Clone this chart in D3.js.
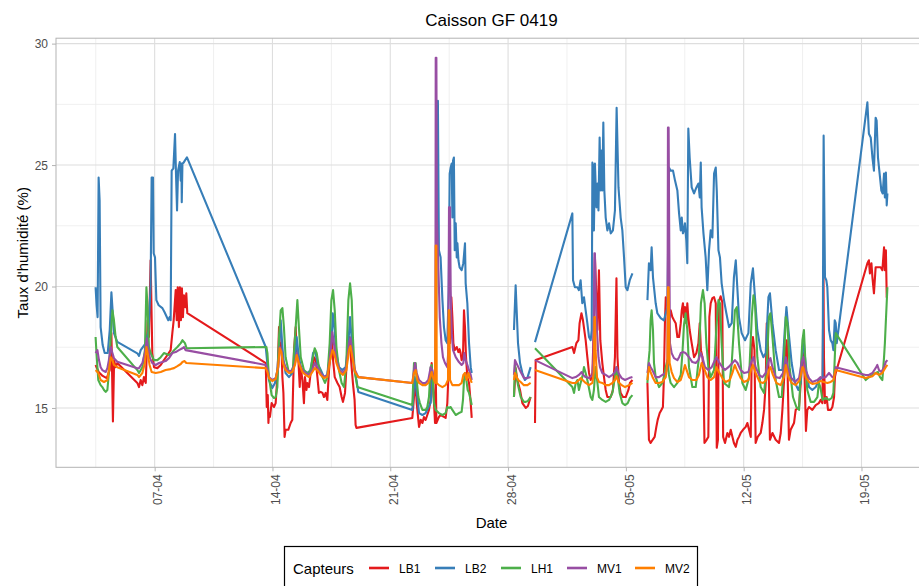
<!DOCTYPE html>
<html><head><meta charset="utf-8">
<script src="https://cdn.jsdelivr.net/npm/d3@7"></script>
<style>body{margin:0;background:#fff}svg{display:block;font-family:"Liberation Sans",Arial,Helvetica,sans-serif}</style>
</head><body><svg id="c" width="919" height="586"></svg>
<script>
// Time is given as day number counted from 31 March 2019 (day 7 = 07-04, day 35 = 05-05); null = gap in the record
const seriesNames = ["LB1","LB2","LH1","MV1","MV2"];
const seriesColors = ["#E41A1C","#377EB8","#4DAF4A","#984EA3","#FF7F00"];
const yTicks = [15,20,25,30];
const yMinor = [17.5,22.5,27.5];
const tickFormat = "%d-%m";

const LB1 = [[3.49,16.77],[3.67,16.48],[3.91,16.32],[4.15,16.23],[4.33,16.56],[4.43,18.08],[4.52,14.44],[4.59,16.97],[4.68,16.68],[4.78,16.85],[5.97,16.03],[6.07,15.86],[6.17,16.15],[6.27,15.94],[6.36,16.27],[6.47,16.03],[6.53,17.26],[6.58,18.61],[6.66,17.92],[6.76,21.08],[6.86,17.26],[6.96,16.68],[7.16,16.64],[7.36,16.77],[7.55,16.97],[7.76,17.18],[7.95,17.38],[8.05,18.08],[8.13,18.61],[8.25,19.85],[8.31,18.61],[8.37,19.97],[8.44,18.33],[8.50,19.97],[8.56,18.61],[8.62,19.93],[8.68,18.74],[8.74,19.64],[8.82,19.15],[8.88,19.72],[8.94,18.90],[13.60,16.85],[13.66,15.04],[13.72,15.53],[13.76,14.38],[13.79,14.79],[13.85,14.63],[13.95,15.20],[14.09,15.04],[14.19,15.20],[14.25,15.86],[14.31,16.56],[14.39,18.33],[14.45,17.38],[14.53,17.67],[14.59,16.27],[14.65,15.62],[14.72,13.81],[14.78,14.10],[14.94,14.10],[15.08,14.38],[15.18,14.51],[15.28,17.38],[15.38,18.33],[15.44,17.26],[15.54,16.97],[15.62,15.86],[15.68,16.68],[15.78,16.15],[15.87,15.20],[15.93,16.27],[16.02,15.74],[16.07,16.03],[16.17,15.86],[16.27,16.44],[16.37,16.56],[16.47,17.09],[16.57,16.97],[16.67,16.27],[16.76,15.62],[16.86,15.66],[16.97,15.62],[17.06,15.45],[17.16,15.62],[17.26,15.33],[17.36,16.56],[17.46,17.26],[17.52,18.08],[17.60,16.97],[17.70,16.27],[17.86,16.03],[17.99,15.86],[18.11,15.45],[18.19,15.25],[18.31,15.62],[18.41,16.85],[18.51,17.51],[18.59,17.92],[18.67,16.97],[18.78,16.03],[18.88,15.33],[18.94,14.30],[18.99,14.18],[22.31,14.59],[22.41,15.45],[22.51,16.03],[22.57,15.20],[22.65,14.63],[22.71,14.22],[22.81,14.51],[22.91,14.38],[23.00,14.63],[23.10,14.51],[23.20,14.71],[23.30,14.92],[23.40,15.33],[23.46,16.85],[23.52,16.03],[23.60,15.20],[23.66,14.38],[23.70,16.56],[23.74,14.38],[23.82,14.51],[23.89,14.63],[23.99,14.71],[24.19,14.63],[24.29,14.59],[24.39,15.20],[24.45,16.27],[24.49,17.79],[24.55,17.67],[24.63,19.56],[24.69,18.74],[24.75,17.67],[24.83,17.38],[24.95,17.51],[25.05,17.30],[25.12,17.42],[25.18,17.26],[25.24,16.97],[25.32,17.09],[25.38,19.02],[25.44,18.33],[25.50,17.09],[25.58,16.27],[25.68,16.03],[25.78,15.20],[25.84,14.59],
null,[28.35,15.45],[28.45,16.64],[28.55,16.15],[28.71,15.74],[28.85,15.20],[29.05,15.00],[29.18,15.08],[29.34,15.45],
null,[29.60,14.38],[29.64,16.97],[31.82,17.51],[31.92,17.26],[32.06,17.67],[32.18,17.79],[32.25,18.49],[32.36,18.90],[32.45,18.61],[32.61,17.79],[32.71,17.09],[32.81,16.44],[32.91,16.15],[33.01,16.44],[33.10,18.49],[33.16,21.20],[33.22,20.13],[33.31,18.21],[33.40,20.67],[33.48,17.79],[33.60,16.85],[33.70,16.27],[33.80,15.74],[33.90,15.45],[34.10,15.45],[34.23,15.74],[34.35,17.09],[34.44,20.34],[34.50,17.09],[34.59,16.03],[34.69,15.62],[34.83,15.45],[34.99,15.45],[35.15,15.74],[35.24,16.03],[35.39,16.15],
null,[36.28,16.03],[36.34,14.51],[36.37,13.69],[36.47,13.56],[36.59,13.69],[36.71,13.81],[36.81,14.22],[36.89,14.51],[37.01,14.79],[37.11,14.92],[37.20,15.04],[37.26,16.27],[37.32,18.49],[37.37,19.56],[37.47,19.31],[37.56,18.61],[37.66,19.02],[37.76,18.74],[37.86,18.61],[37.96,18.49],[38.06,17.92],[38.16,17.92],[38.26,18.49],[38.32,19.02],[38.39,19.31],[38.45,18.74],[38.51,19.15],[38.59,18.49],[38.65,19.31],[38.71,18.74],[38.79,18.21],[38.91,17.67],[39.05,17.09],[39.19,17.26],[39.31,17.67],[39.39,18.49],[39.46,17.38],[39.55,17.09],[39.61,16.44],[39.67,13.56],[39.80,13.69],[39.90,13.81],[39.96,18.74],[40.04,19.31],[40.14,19.52],[40.24,19.56],[40.34,19.31],[40.40,13.36],[40.47,13.69],[40.53,19.40],[40.63,19.60],[40.73,19.35],[40.78,13.81],[40.89,13.56],[41.03,13.97],[41.13,13.81],[41.23,14.10],[41.33,13.81],[41.42,13.56],[41.53,13.40],[41.63,13.69],[41.72,13.81],[41.82,13.97],[41.96,14.10],[42.12,14.22],[42.22,14.38],[42.32,14.10],[42.42,13.81],[42.48,17.51],[42.55,17.92],[42.64,17.38],[42.71,13.56],[42.83,13.81],[43.01,13.97],[43.11,14.38],[43.21,14.92],[43.31,16.03],[43.37,18.49],[43.43,17.92],[43.50,16.03],[43.56,13.69],[43.71,13.97],[43.90,13.69],[44.10,13.56],[44.20,13.97],[44.30,14.92],[44.39,16.03],[44.50,17.38],[44.56,17.79],[44.61,16.44],[44.69,13.69],[44.79,14.10],[44.99,14.38],[45.09,14.92],[45.29,15.04],[45.39,16.03],[45.49,17.09],[45.58,17.26],[45.64,15.74],[45.70,14.05],[45.78,14.92],[45.88,15.04],[46.08,14.92],[46.28,15.12],[46.47,15.20],[46.57,15.33],[46.68,15.20],[46.74,20.59],[46.77,17.09],[46.83,15.20],[46.93,15.45],[47.01,14.92],[47.17,14.92],[47.27,15.04],[47.37,15.45],[47.42,16.27],[47.47,16.44],[49.35,20.96],[49.44,21.08],[49.50,20.54],[49.59,20.96],[49.65,20.38],[49.74,19.72],[49.84,20.79],[49.94,20.79],[50.14,20.79],[50.24,20.67],[50.34,21.61],[50.39,20.67],[50.45,21.49],[50.50,19.56],[50.54,19.56]];

const LB2 = [[3.49,19.97],[3.55,19.23],[3.61,18.74],[3.67,24.49],[3.73,23.54],[3.79,18.33],[3.91,17.59],[4.03,17.26],[4.21,17.26],[4.33,18.21],[4.43,19.76],[4.50,19.02],[4.58,18.08],[4.78,17.72],[5.97,17.25],[6.07,17.14],[6.17,17.38],[6.47,17.67],[6.64,18.21],[6.76,20.05],[6.82,24.49],[6.90,24.49],[6.94,21.37],[7.02,21.20],[7.10,19.44],[7.24,19.23],[7.46,19.11],[7.59,18.94],[7.81,18.61],[7.89,18.74],[7.95,18.61],[8.01,24.77],[8.11,24.86],[8.21,26.28],[8.27,24.57],[8.33,23.13],[8.39,24.77],[8.49,25.12],[8.55,24.36],[8.59,25.06],[8.61,23.47],[8.65,25.06],[8.72,25.10],[8.92,25.32],[13.60,17.51],[13.79,16.15],[13.99,15.82],[14.15,16.03],[14.29,16.56],[14.39,17.51],[14.49,18.61],[14.59,17.51],[14.68,16.85],[14.78,16.44],[14.98,16.27],[15.18,16.44],[15.34,16.97],[15.44,17.92],[15.54,17.26],[15.68,16.68],[15.87,16.44],[16.07,16.44],[16.27,16.56],[16.41,17.26],[16.53,17.38],[16.67,16.85],[16.87,16.56],[17.06,16.27],[17.26,16.36],[17.40,17.10],[17.52,17.79],[17.58,18.90],[17.70,18.21],[17.76,17.38],[17.95,16.68],[18.15,16.56],[18.35,16.68],[18.51,17.67],[18.61,18.74],[18.71,17.79],[18.84,16.68],[18.99,16.15],[19.10,15.66],[22.31,14.92],[22.45,16.27],[22.61,15.45],[22.71,14.79],[22.91,14.71],[23.10,14.79],[23.40,15.21],[23.50,16.15],[23.60,16.27],[23.70,16.56],[23.77,22.31],[23.83,27.65],[23.89,21.49],[23.99,21.20],[24.10,19.44],[24.19,18.33],[24.29,17.79],[24.39,17.67],[24.47,19.85],[24.53,24.65],[24.59,24.90],[24.65,25.06],[24.69,22.84],[24.73,25.19],[24.78,25.31],[24.83,21.49],[24.89,22.60],[24.95,21.20],[24.99,21.78],[25.05,21.08],[25.12,20.79],[25.24,20.67],[25.34,20.96],[25.44,21.78],[25.48,20.13],[25.58,19.31],[25.68,17.67],[25.78,16.68],[25.84,16.44],
null,[28.35,18.21],[28.45,20.05],[28.51,19.03],[28.59,17.67],[28.71,16.85],[28.85,16.44],[29.00,16.15],[29.16,16.27],[29.34,16.68],
null,[29.60,17.71],[31.82,23.01],[31.86,20.26],[31.97,19.97],[32.12,19.97],[32.21,19.85],[32.31,20.26],[32.41,19.31],[32.51,19.56],[32.61,19.02],[32.71,18.49],[32.81,17.92],[32.91,17.79],[32.97,18.21],[33.01,25.10],[33.07,24.90],[33.10,22.31],[33.16,25.06],[33.25,23.26],[33.31,24.24],[33.37,23.13],[33.44,26.13],[33.50,23.95],[33.56,25.60],[33.60,23.95],[33.66,26.75],[33.72,23.95],[33.80,22.84],[33.90,22.31],[34.00,22.60],[34.10,22.19],[34.23,22.31],[34.35,23.13],[34.45,27.36],[34.56,24.08],[34.69,22.84],[34.79,22.31],[34.89,21.20],[34.99,19.97],[35.09,19.85],[35.23,20.26],[35.39,20.54],
null,[36.28,19.44],[36.37,20.96],[36.47,20.67],[36.53,21.61],[36.61,20.38],[36.77,19.31],[36.87,18.90],[37.07,18.70],[37.26,18.61],[37.47,19.15],[37.56,24.90],[37.66,24.77],[37.80,24.77],[37.92,24.36],[38.06,23.95],[38.16,23.01],[38.26,22.31],[38.32,22.84],[38.39,22.19],[38.45,22.31],[38.51,22.60],[38.59,21.90],[38.65,20.96],[38.71,26.50],[38.79,25.31],[38.91,24.08],[39.05,23.83],[39.19,24.08],[39.31,24.24],[39.39,23.67],[39.45,25.10],[39.50,23.26],[39.61,22.19],[39.74,21.20],[39.84,19.85],[39.94,21.49],[40.04,22.31],[40.14,22.02],[40.24,24.65],[40.34,24.90],[40.40,23.95],[40.50,21.49],[40.59,21.20],[40.69,20.13],[40.83,19.44],[40.97,18.90],[41.13,18.33],[41.29,18.49],[41.42,20.38],[41.53,21.08],[41.63,19.85],[41.72,18.74],[41.88,18.08],[42.08,17.79],[42.28,18.08],[42.42,20.13],[42.55,20.75],[42.67,19.56],[42.81,18.21],[43.01,17.38],[43.17,17.09],[43.31,17.26],[43.47,19.56],[43.56,19.72],[43.71,18.49],[43.90,17.38],[44.10,16.56],[44.30,16.56],[44.44,18.21],[44.54,19.15],[44.66,18.21],[44.85,16.85],[45.05,16.03],[45.25,15.74],[45.39,16.03],[45.49,17.38],[45.58,17.67],[45.62,17.26],[45.74,16.44],[45.88,15.86],[46.08,15.74],[46.28,15.86],[46.47,16.15],[46.69,16.27],[46.75,26.21],[46.83,20.38],[46.91,20.26],[46.97,19.97],[47.07,18.21],[47.17,17.79],[47.27,17.67],[47.33,17.38],[47.41,18.61],[47.47,18.49],[47.53,17.67],[49.35,27.58],[49.44,26.29],[49.55,26.13],[49.65,25.31],[49.74,24.77],[49.84,26.95],[49.90,26.83],[49.98,25.31],[50.10,24.49],[50.18,23.95],[50.26,23.83],[50.34,24.65],[50.39,23.67],[50.45,24.69],[50.50,23.34],[50.54,23.83]];

const LH1 = [[3.49,17.92],[3.55,17.18],[3.65,16.15],[3.79,15.94],[3.89,15.86],[3.99,15.74],[4.09,15.66],[4.19,15.74],[4.28,16.44],[4.39,17.92],[4.49,19.02],[4.58,18.61],[4.68,17.92],[4.78,17.51],[5.97,16.56],[6.07,16.44],[6.27,16.68],[6.42,17.38],[6.51,19.97],[6.58,19.15],[6.66,17.51],[6.76,17.26],[6.96,16.97],[7.16,16.97],[7.36,17.09],[7.55,17.26],[7.85,17.18],[8.01,17.26],[8.15,17.38],[8.35,17.51],[8.55,17.67],[8.65,17.79],[8.80,17.67],[8.90,17.46],[13.64,17.51],[13.70,17.26],[13.79,16.27],[13.95,15.53],[14.09,15.41],[14.19,15.45],[14.29,15.86],[14.39,17.92],[14.49,19.02],[14.59,19.11],[14.68,18.33],[14.78,17.09],[14.94,16.56],[15.08,16.44],[15.22,16.68],[15.38,18.33],[15.48,19.44],[15.57,18.33],[15.68,17.09],[15.87,16.56],[16.07,16.44],[16.21,16.44],[16.37,16.97],[16.51,17.46],[16.63,17.26],[16.76,16.68],[16.97,16.27],[17.12,16.03],[17.26,16.27],[17.40,17.67],[17.50,19.44],[17.60,19.85],[17.70,19.02],[17.80,17.51],[17.95,16.56],[18.11,16.03],[18.25,15.86],[18.39,16.85],[18.51,19.44],[18.61,20.13],[18.71,19.44],[18.78,17.92],[18.88,16.56],[19.04,15.86],[22.31,15.12],[22.41,16.85],[22.51,16.85],[22.57,16.15],[22.67,15.45],[22.76,15.20],[22.91,14.92],[23.10,14.92],[23.20,15.04],[23.30,15.45],[23.40,16.68],[23.46,16.77],[23.54,16.03],[23.60,15.20],[23.70,14.92],[23.89,14.79],[24.10,14.71],[24.29,14.79],[24.39,15.04],[24.49,15.00],[24.59,15.04],[24.69,14.92],[24.89,14.71],[25.08,14.79],[25.24,14.84],[25.32,15.33],[25.38,16.15],[25.44,16.44],[25.52,16.15],[25.60,15.74],[25.68,15.62],[25.78,15.33],[25.84,15.12],
null,[28.35,15.45],[28.41,16.77],[28.49,16.36],[28.59,15.94],[28.75,15.45],[28.94,15.25],[29.05,15.25],[29.18,15.29],[29.34,15.45],
null,[29.60,17.46],[31.82,15.86],[31.92,15.62],[32.02,16.03],[32.12,16.15],[32.21,15.74],[32.31,16.03],[32.41,16.27],[32.51,16.68],[32.61,16.44],[32.71,16.15],[32.91,15.45],[33.01,15.33],[33.10,15.74],[33.20,16.68],[33.31,16.03],[33.40,15.45],[33.60,15.33],[33.80,15.25],[34.00,15.33],[34.20,15.62],[34.35,16.27],[34.44,16.68],[34.51,16.27],[34.63,15.62],[34.79,15.20],[34.95,15.12],[35.11,15.20],[35.24,15.41],[35.39,15.53],
null,[36.28,16.03],[36.34,16.85],[36.41,17.38],[36.47,18.61],[36.53,19.02],[36.61,18.21],[36.67,16.85],[36.77,16.27],[36.97,15.86],[37.17,16.03],[37.26,16.27],[37.37,16.68],[37.47,16.97],[37.56,16.36],[37.66,16.03],[37.86,15.86],[38.06,16.03],[38.26,16.36],[38.36,17.26],[38.45,18.41],[38.55,18.90],[38.65,18.21],[38.75,16.68],[38.95,15.86],[39.15,15.86],[39.34,17.09],[39.46,19.31],[39.58,19.85],[39.68,19.31],[39.78,17.67],[39.90,16.68],[40.04,16.27],[40.24,16.56],[40.38,18.33],[40.50,19.44],[40.59,19.31],[40.69,17.67],[40.83,16.03],[41.13,15.86],[41.29,16.85],[41.48,19.02],[41.59,19.15],[41.72,17.67],[41.92,16.03],[42.12,15.74],[42.32,16.27],[42.48,18.74],[42.58,19.64],[42.67,19.31],[42.81,17.09],[43.01,15.86],[43.21,15.62],[43.37,16.68],[43.50,18.74],[43.59,18.90],[43.71,17.92],[43.90,16.15],[44.10,15.45],[44.26,15.45],[44.39,16.85],[44.50,18.74],[44.60,18.49],[44.73,16.68],[44.93,15.45],[45.13,15.04],[45.29,14.92],[45.39,16.56],[45.49,17.79],[45.58,18.21],[45.68,16.68],[45.78,15.74],[45.98,15.25],[46.18,15.25],[46.38,15.45],[46.47,16.03],[46.57,15.82],[46.68,15.33],[46.87,15.41],[47.07,15.33],[47.23,15.41],[47.33,15.62],[47.39,16.68],[47.47,18.08],[49.25,16.15],[49.44,16.27],[49.65,16.36],[49.84,16.44],[49.98,16.48],[50.10,16.27],[50.24,16.15],[50.34,17.09],[50.39,17.67],[50.45,18.61],[50.54,19.97]];

const MV1 = [[3.49,17.26],[3.60,17.38],[3.69,16.97],[3.79,16.68],[3.89,16.56],[4.09,16.48],[4.19,16.64],[4.28,16.97],[4.39,17.51],[4.49,17.26],[4.58,17.05],[4.78,16.90],[5.97,16.63],[6.07,16.64],[6.27,16.85],[6.42,17.26],[6.53,17.87],[6.60,17.51],[6.72,17.05],[6.86,16.85],[7.06,16.77],[7.26,16.85],[7.46,16.89],[7.65,16.93],[7.85,17.05],[8.05,17.26],[8.25,17.30],[8.44,17.38],[8.65,17.46],[8.74,17.51],[8.84,17.38],[13.60,16.77],[13.70,16.60],[13.79,16.27],[13.99,16.15],[14.19,16.23],[14.35,16.68],[14.43,17.51],[14.53,17.38],[14.62,16.97],[14.78,16.68],[14.98,16.48],[15.18,16.56],[15.34,16.85],[15.44,17.26],[15.57,16.89],[15.78,16.56],[15.97,16.44],[16.17,16.36],[16.37,16.56],[16.51,16.85],[16.67,16.68],[16.86,16.44],[17.06,16.27],[17.26,16.36],[17.40,16.97],[17.56,18.12],[17.65,17.67],[17.80,16.97],[17.99,16.56],[18.19,16.44],[18.39,16.68],[18.55,17.67],[18.63,17.87],[18.75,17.26],[18.90,16.56],[19.10,16.27],[22.31,16.03],[22.41,16.56],[22.47,16.85],[22.57,16.44],[22.71,16.15],[22.91,16.03],[23.10,16.03],[23.26,16.15],[23.40,16.68],[23.50,16.56],[23.60,16.15],[23.68,16.15],[23.70,29.42],[23.74,29.42],[23.77,22.84],[23.83,21.49],[23.94,18.74],[24.04,17.67],[24.13,17.09],[24.25,16.85],[24.39,16.68],[24.45,17.38],[24.49,23.26],[24.55,23.26],[24.59,19.85],[24.65,18.08],[24.73,17.38],[24.89,17.09],[25.08,16.89],[25.24,16.77],[25.34,16.85],[25.40,17.26],[25.48,16.97],[25.58,16.77],[25.68,16.56],[25.78,16.36],[25.84,16.15],
null,[28.35,16.36],[28.41,16.97],[28.49,16.85],[28.61,16.68],[28.75,16.48],[28.94,16.23],[29.15,16.23],[29.34,16.27],
null,[29.60,16.97],[31.82,16.23],[32.02,16.27],[32.21,16.36],[32.37,16.48],[32.47,16.36],[32.61,16.27],[32.81,16.23],[33.01,16.36],[33.07,17.09],[33.13,21.37],[33.16,21.37],[33.20,19.85],[33.26,18.49],[33.37,17.09],[33.46,16.68],[33.60,16.44],[33.80,16.36],[34.00,16.27],[34.20,16.36],[34.35,16.48],[34.44,16.68],[34.56,16.44],[34.75,16.23],[34.95,16.15],[35.19,16.23],[35.39,16.27],
null,[36.28,16.44],[36.37,16.85],[36.47,16.68],[36.57,16.56],[36.77,16.27],[36.97,16.27],[37.17,16.36],[37.37,16.44],[37.47,16.68],[37.50,26.54],[37.54,26.54],[37.58,21.49],[37.62,17.67],[37.72,17.26],[37.86,17.05],[38.06,16.97],[38.16,17.09],[38.26,17.26],[38.39,17.30],[38.55,17.26],[38.75,17.09],[38.95,16.89],[39.15,16.85],[39.31,16.97],[39.45,17.26],[39.55,17.09],[39.70,16.68],[39.90,16.56],[40.10,16.68],[40.24,16.89],[40.38,17.09],[40.53,16.89],[40.73,16.68],[40.89,16.56],[41.09,16.68],[41.33,16.85],[41.48,16.97],[41.63,16.85],[41.82,16.56],[42.02,16.44],[42.28,16.48],[42.42,16.85],[42.58,17.09],[42.71,16.68],[42.91,16.36],[43.11,16.27],[43.31,16.44],[43.50,16.97],[43.59,17.05],[43.71,16.68],[43.90,16.27],[44.14,16.23],[44.34,16.44],[44.50,17.09],[44.61,16.68],[44.79,16.27],[45.05,16.07],[45.29,16.23],[45.45,16.89],[45.55,17.09],[45.68,16.56],[45.88,16.23],[46.08,16.07],[46.38,16.15],[46.57,16.27],[46.68,16.23],[46.87,16.27],[47.07,16.44],[47.27,16.27],[47.37,16.27],[47.47,16.68],[49.25,16.36],[49.44,16.36],[49.65,16.44],[49.84,16.64],[49.94,16.77],[50.04,16.56],[50.18,16.48],[50.34,16.68],[50.44,16.89],[50.54,16.97]];

const MV2 = [[3.49,16.56],[3.65,16.44],[3.79,16.15],[3.99,16.07],[4.19,16.15],[4.28,16.56],[4.39,17.09],[4.49,16.97],[4.58,16.77],[4.78,16.68],[5.97,16.36],[6.07,16.27],[6.27,16.44],[6.42,16.85],[6.51,17.51],[6.58,17.26],[6.70,16.77],[6.82,16.48],[7.06,16.44],[7.36,16.48],[7.65,16.56],[7.95,16.60],[8.15,16.64],[8.35,16.72],[8.55,16.81],[8.65,16.89],[8.78,16.93],[8.88,16.85],[13.60,16.64],[13.70,16.48],[13.79,16.23],[13.99,16.11],[14.19,16.19],[14.33,16.68],[14.43,17.46],[14.53,17.30],[14.62,16.85],[14.78,16.56],[14.98,16.44],[15.18,16.48],[15.34,16.77],[15.44,17.18],[15.57,16.85],[15.78,16.48],[15.97,16.36],[16.17,16.27],[16.37,16.48],[16.51,16.64],[16.67,16.56],[16.86,16.36],[17.06,16.23],[17.26,16.27],[17.40,16.89],[17.56,17.38],[17.65,17.30],[17.80,16.85],[17.99,16.48],[18.19,16.36],[18.39,16.56],[18.55,17.38],[18.63,17.55],[18.75,17.09],[18.90,16.48],[19.10,16.27],[22.31,16.03],[22.41,16.44],[22.51,16.56],[22.61,16.15],[22.71,16.03],[22.91,15.94],[23.10,15.94],[23.26,16.03],[23.36,16.23],[23.46,16.48],[23.54,16.27],[23.66,16.03],[23.70,21.69],[23.74,21.69],[23.76,16.03],[23.89,15.94],[24.10,15.86],[24.29,15.94],[24.43,16.15],[24.47,19.02],[24.51,19.02],[24.55,16.15],[24.69,15.94],[24.89,15.94],[25.08,15.94],[25.24,16.03],[25.34,16.36],[25.44,16.44],[25.54,16.15],[25.64,16.44],[25.74,16.23],[25.84,16.03],
null,[28.35,16.15],[28.41,16.44],[28.51,16.27],[28.61,16.15],[28.75,16.07],[28.94,15.94],[29.15,15.94],[29.34,16.03],
null,[29.60,16.56],[31.82,16.03],[32.02,16.03],[32.21,16.15],[32.31,16.23],[32.43,16.15],[32.61,16.03],[32.81,15.94],[33.01,16.03],[33.09,16.44],[33.13,18.74],[33.16,18.74],[33.20,17.38],[33.28,16.27],[33.40,16.07],[33.60,16.03],[33.80,15.94],[34.00,15.94],[34.20,16.03],[34.35,16.15],[34.44,16.31],[34.56,16.07],[34.75,15.94],[34.95,15.86],[35.19,15.94],[35.39,16.03],
null,[36.28,16.15],[36.37,16.68],[36.47,16.48],[36.61,16.23],[36.77,16.03],[36.97,16.03],[37.17,16.07],[37.37,16.27],[37.47,16.85],[37.50,19.97],[37.54,19.97],[37.60,16.85],[37.72,16.48],[37.86,16.23],[38.06,16.07],[38.26,16.15],[38.39,16.44],[38.51,16.77],[38.61,16.56],[38.75,16.27],[38.95,16.15],[39.19,16.15],[39.34,16.36],[39.50,16.85],[39.64,16.64],[39.84,16.27],[40.04,16.15],[40.24,16.27],[40.38,16.68],[40.53,16.48],[40.73,16.23],[40.93,16.07],[41.17,16.15],[41.33,16.44],[41.47,16.77],[41.60,16.56],[41.82,16.23],[42.02,16.07],[42.28,16.15],[42.43,16.56],[42.55,16.77],[42.71,16.44],[42.95,16.07],[43.15,16.03],[43.35,16.15],[43.50,16.56],[43.59,16.68],[43.74,16.36],[43.94,16.03],[44.20,15.94],[44.39,16.27],[44.50,16.77],[44.66,16.27],[44.85,16.03],[45.09,15.94],[45.33,16.15],[45.49,16.68],[45.55,16.64],[45.68,16.27],[45.88,16.07],[46.08,15.99],[46.38,16.03],[46.57,16.11],[46.77,16.07],[46.97,16.03],[47.17,16.07],[47.33,16.15],[47.42,16.44],[47.47,16.56],[49.25,16.23],[49.44,16.27],[49.65,16.31],[49.84,16.44],[50.04,16.36],[50.24,16.44],[50.34,16.56],[50.44,16.68],[50.54,16.77]];

const seriesData = [LB1, LB2, LH1, MV1, MV2];

const base = Date.UTC(2019, 2, 31);
const toDate = d => new Date(base + d * 864e5);

const svg = d3.select("#c");
const P = {l: 56, r: 927, t: 38.2, b: 467.3};

// ggplot-like 5% expansion of data range
const allPts = seriesData.flat().filter(p => p);
const dx = d3.extent(allPts, p => p[0]), dy = d3.extent(allPts, p => p[1]);
const ex = (dx[1]-dx[0])*0.05, ey = (dy[1]-dy[0])*0.05;
const x = d3.scaleUtc().domain([toDate(dx[0]-ex), toDate(dx[1]+ex)]).range([P.l, P.r]);
const y = d3.scaleLinear().domain([dy[0]-ey, dy[1]+ey]).range([P.b, P.t]);

svg.append("defs").append("clipPath").attr("id","clip")
  .append("rect").attr("x",P.l).attr("y",P.t).attr("width",P.r-P.l).attr("height",P.b-P.t);

const grid = svg.append("g");
const majorX = d3.utcSunday.range(x.domain()[0], x.domain()[1]);
const minorX = [new Date(+majorX[0] - 3.5*864e5)].concat(majorX.map(d => new Date(+d + 3.5*864e5)));
grid.selectAll(".mnx").data(minorX).join("line")
  .attr("x1", d => x(d)).attr("x2", d => x(d)).attr("y1", P.t).attr("y2", P.b)
  .attr("stroke", "#ebebeb").attr("stroke-width", 0.8);
grid.selectAll(".mny").data(yMinor).join("line")
  .attr("x1", P.l).attr("x2", P.r).attr("y1", d => y(d)).attr("y2", d => y(d))
  .attr("stroke", "#ebebeb").attr("stroke-width", 0.8);
grid.selectAll(".mjx").data(majorX).join("line")
  .attr("x1", d => x(d)).attr("x2", d => x(d)).attr("y1", P.t).attr("y2", P.b)
  .attr("stroke", "#dedede").attr("stroke-width", 1.1);
grid.selectAll(".mjy").data(yTicks).join("line")
  .attr("x1", P.l).attr("x2", P.r).attr("y1", d => y(d)).attr("y2", d => y(d))
  .attr("stroke", "#dedede").attr("stroke-width", 1.1);

const line = d3.line().defined(d => d !== null).x(d => x(toDate(d[0]))).y(d => y(d[1]));
const lines = svg.append("g").attr("clip-path","url(#clip)");
seriesData.forEach((s, i) => {
  lines.append("path").attr("d", line(s)).attr("fill","none")
    .attr("stroke", seriesColors[i]).attr("stroke-width", 2.1)
    .attr("stroke-linejoin","round").attr("stroke-linecap","butt");
});

// panel border
svg.append("rect").attr("x",P.l).attr("y",P.t).attr("width",P.r-P.l).attr("height",P.b-P.t)
  .attr("fill","none").attr("stroke","#b3b3b3").attr("stroke-width",1);

// axes
const ya = svg.append("g").attr("transform",`translate(${P.l},0)`)
  .call(d3.axisLeft(y).tickValues(yTicks).tickSize(4).tickPadding(4));
ya.select(".domain").remove();
ya.selectAll(".tick line").attr("stroke","#b3b3b3");
ya.selectAll(".tick text").attr("fill","#4d4d4d").style("font-size","12px").attr("dy","0.34em");

const xa = svg.append("g").attr("transform",`translate(0,${P.b})`)
  .call(d3.axisBottom(x).tickValues(majorX).tickFormat(d3.utcFormat(tickFormat)).tickSize(4));
xa.select(".domain").remove();
xa.selectAll(".tick line").attr("stroke","#b3b3b3");
xa.selectAll(".tick text").attr("fill","#4d4d4d").style("font-size","12px")
  .attr("transform","rotate(-90)").attr("x",-7).attr("y",0).attr("dy","0.6em")
  .attr("text-anchor","end");

// titles
svg.append("text").attr("x",(P.l+P.r)/2).attr("y",26).attr("text-anchor","middle")
  .style("font-size","17px").attr("fill","#000").text("Caisson GF 0419");
svg.append("text").attr("x",(P.l+P.r)/2).attr("y",528).attr("text-anchor","middle")
  .style("font-size","15px").attr("fill","#000").text("Date");
svg.append("text").attr("transform",`translate(28,${(P.t+P.b)/2}) rotate(-90)`).attr("text-anchor","middle")
  .style("font-size","15px").attr("fill","#000").text("Taux d'humidité (%)");

// legend
const lg = svg.append("g");
lg.append("rect").attr("x",284.5).attr("y",546.5).attr("width",413).attr("height",50)
  .attr("fill","#fff").attr("stroke","#000").attr("stroke-width",1.2);
lg.append("text").attr("x",293).attr("y",574).style("font-size","15px").attr("fill","#000").text("Capteurs");
const keyX = [369, 435, 501, 567, 635];
seriesNames.forEach((n, i) => {
  lg.append("line").attr("x1",keyX[i]).attr("x2",keyX[i]+20).attr("y1",568).attr("y2",568)
    .attr("stroke",seriesColors[i]).attr("stroke-width",2.6);
  lg.append("text").attr("x",keyX[i]+30).attr("y",572.5).style("font-size","12px").attr("fill","#000").text(n);
});
</script></body></html>
